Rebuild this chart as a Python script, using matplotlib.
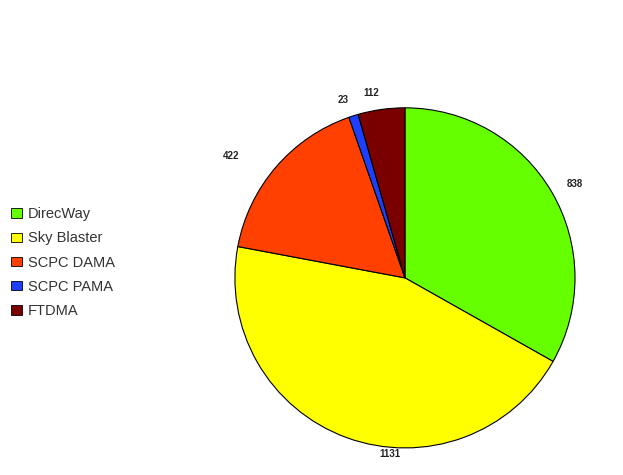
import matplotlib
matplotlib.use("Agg")
import numpy as np
from matplotlib import pyplot as plt
from matplotlib.patches import Patch

plt.rcParams["font.family"] = ["Liberation Sans", "DejaVu Sans"]

# Data
categories = ["DirecWay", "Sky Blaster", "SCPC DAMA", "SCPC PAMA", "FTDMA"]
values = [838, 1131, 422, 23, 112]
colors = ["#66FF00", "#FFFF00", "#FF4000", "#1F3FFF", "#7A0000"]

fig = plt.figure(figsize=(6.23, 4.75), dpi=100)
ax = fig.add_axes([0.377, 0.057, 0.546, 0.716])

wedges, texts = ax.pie(
    values,
    labels=[str(v) for v in values],
    colors=colors,
    startangle=90,
    counterclock=False,
    labeldistance=1.1,
    wedgeprops={"edgecolor": "black", "linewidth": 0.8},
    textprops={"fontsize": 7, "fontweight": "bold", "color": "#222222"},
)
ax.set_aspect("equal")
ax.set_xlim(-1, 1)
ax.set_ylim(-1, 1)

# move a couple of labels to where the original puts them
for i, (deg, dist) in {2: (145, 1.25), 1: (-95, 1.04)}.items():
    a = np.deg2rad(deg)
    texts[i].set_position((dist * np.cos(a), dist * np.sin(a)))
    texts[i].set_ha("center")

handles = [Patch(facecolor=c, edgecolor="black", linewidth=0.6) for c in colors]
fig.legend(
    handles,
    categories,
    loc="upper left",
    bbox_to_anchor=(0.008, 0.576),
    borderaxespad=0,
    frameon=False,
    fontsize=10.5,
    labelcolor="#333333",
    handlelength=0.8,
    handleheight=0.6,
    handletextpad=0.35,
    labelspacing=0.7,
)

fig.savefig("out.png", dpi=100)
